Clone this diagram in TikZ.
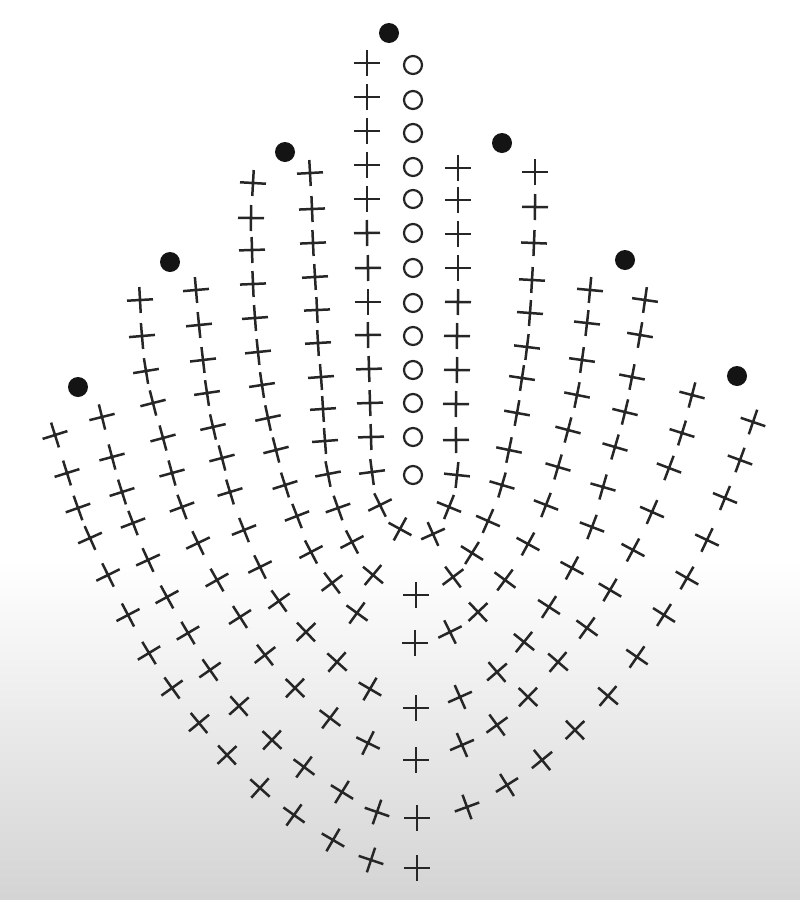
\documentclass[tikz,border=0pt]{standalone}
\tikzset{
  stitch/.style={line width=2.5pt, draw=black!85},
  chainst/.style={line width=2.2pt, draw=black!85},
  slipst/.style={fill=black!92}
}
\newcommand\stitchrow[1]{%
  \pgfmathtruncatemacro\nn{dim(#1)/2-1}%
  \foreach \i in {0,...,\nn}{%
    \pgfmathtruncatemacro\ia{max(\i-1,0)}%
    \pgfmathtruncatemacro\ib{min(\i+1,\nn)}%
    \pgfmathsetmacro\px{#1[2*\i]}%
    \pgfmathsetmacro\py{#1[2*\i+1]}%
    \pgfmathsetmacro\xa{#1[2*\ia]}%
    \pgfmathsetmacro\ya{#1[2*\ia+1]}%
    \pgfmathsetmacro\xb{#1[2*\ib]}%
    \pgfmathsetmacro\yb{#1[2*\ib+1]}%
    \pgfmathsetmacro\ang{abs(\px-416)<5 ? 0 : atan2(\ya-\yb,\xb-\xa)}%
    \draw[stitch, shift={(\px,\py)}, rotate=\ang] (-13,0) -- (13,0) (0,-13) -- (0,13);
  }%
}
\begin{document}
\begin{tikzpicture}[x=1pt,y=-1pt]
\useasboundingbox (0,0) rectangle (800,900);
\fill[white] (0,0) rectangle (800,900);
\shade[top color=white,bottom color=black!17] (0,560) rectangle (800,900);

% row paths (left arm down, bottom, right arm up)
\def\arcG{{367,63, 367,97, 367,131, 367,165, 367,199, 367,233, 368,268, 368,302, 368,335, 369,369, 370,403, 371,437, 372,472, 380,505, 400,529, 433,534, 449,507, 457,475, 456,440, 456,404, 457,370, 457,336, 458,302, 458,268, 458,234, 458,200, 458,168}}
\def\arcF{{310,173, 312,209, 313,243, 315,277, 317,310, 318,343, 321,377, 323,409, 325,441, 328,474, 338,508, 352,542, 373,575, 416,595, 453,577, 472,553, 488,521, 502,485, 509,450, 517,413, 522,378, 527,347, 530,313, 532,280, 534,243, 535,207, 535,172}}
\def\arcE{{253,183, 251,218, 252,250, 253,284, 255,318, 258,352, 262,385, 268,418, 276,450, 285,485, 297,516, 311,552, 332,583, 357,613, 415,643, 450,632, 478,612, 505,580, 528,544, 546,505, 558,467, 568,430, 577,395, 582,360, 587,323, 590,290}}
\def\arcD{{196,290, 199,325, 203,360, 207,393, 213,427, 222,458, 230,492, 244,530, 260,567, 279,601, 306,632, 337,662, 370,689, 416,708, 460,697, 497,672, 524,642, 549,607, 572,568, 592,527, 603,487, 615,447, 625,412, 632,377, 640,335, 645,300}}
\def\arcC{{140,300, 142,336, 146,371, 153,403, 163,438, 172,473, 182,507, 198,543, 217,580, 240,617, 265,655, 295,688, 330,718, 368,743, 416,760, 462,745, 497,725, 528,697, 558,662, 587,628, 610,590, 633,550, 652,512, 669,468, 682,433, 692,395}}
\def\arcB{{102,417, 112,457, 122,492, 133,523, 148,560, 167,597, 188,633, 210,670, 239,706, 272,740, 304,767, 342,792, 377,812, 417,818, 467,807, 507,785, 542,760, 575,730, 608,696, 637,657, 664,615, 687,578, 707,540, 725,498, 740,460, 753,422}}
\def\arcA{{55,435, 67,473, 78,508, 90,538, 108,575, 128,615, 149,653, 172,688, 199,723, 227,755, 260,788, 294,815, 333,840, 371,860, 417,868}}

\stitchrow{\arcG}
\stitchrow{\arcF}
\stitchrow{\arcE}
\stitchrow{\arcD}
\stitchrow{\arcC}
\stitchrow{\arcB}
\stitchrow{\arcA}

% chain column
\foreach \y in {65,100,133,167,199,233,268,303,336,370,403,437,475}
  \draw[chainst] (413,\y) circle[radius=9];

% turning dots
\foreach \x/\y in {389/33, 285/152, 502/143, 170/262, 625/260, 78/387, 737/376}
  \fill[slipst] (\x,\y) circle[radius=10];
\end{tikzpicture}
\end{document}
